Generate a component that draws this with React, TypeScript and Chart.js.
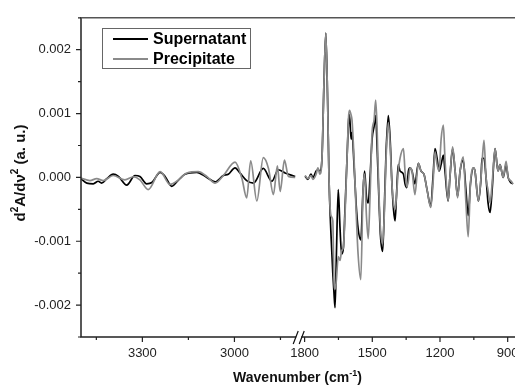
import { useEffect, useRef } from "react";
import { Chart, registerables } from "chart.js";

Chart.register(...registerables);

// ---------- data (wavenumber in cm-1, second derivative in a.u.) ----------
const seriesNames = ["Supernatant", "Precipitate"];

const leftSupWn = [3500, 3481, 3460, 3444, 3433, 3416, 3395, 3378, 3351, 3324, 3308, 3286, 3269, 3242, 3226, 3204, 3188, 3161, 3123, 3090, 3063, 3036, 3020, 2998, 2982, 2960, 2938, 2906, 2878, 2857, 2835, 2802];
const leftSup = [-0.00002, -0.00009, -0.0001, -0.00006, -0.00009, -0.00002, 0.00005, 0.000015, -0.00012, 0.00003, 0.000015, -0.0001, -0.00008, 0.00008, 0.000015, -0.00014, -0.00007, 0.00005, 0.00008, 0, -0.00007, 0.00003, 0.00005, 0.00015, 0.00007, -0.00005, -0.00009, 0.00014, -0.00006, 0.00012, 0.00007, 0.000015];

const leftPreWn = [3500, 3471, 3449, 3427, 3395, 3357, 3329, 3308, 3281, 3242, 3210, 3188, 3155, 3118, 3090, 3063, 3036, 2998, 2976, 2960, 2947, 2927, 2906, 2889, 2873, 2860, 2851, 2837, 2824, 2802];
const leftPre = [-0.00001, -0.00005, -0.00002, -0.00005, 0.00003, -0.00004, 0.00001, -0.00004, -0.00019, 0.00009, -0.00011, -0.00006, 0.00007, 0.00009, 0.000015, -0.00009, 0.00003, 0.00024, -0.00001, -0.00032, 0.00026, -0.00037, 0.00031, 0.00014, -0.00027, 0.00018, -0.00022, 0.00027, 0.000015, 0];

const rightWn = [1798, 1785, 1772, 1763, 1749, 1741, 1732, 1723, 1714, 1706, 1698, 1692, 1683, 1675, 1670, 1665, 1659, 1651, 1643, 1636, 1628, 1621, 1612, 1605, 1601, 1594, 1590, 1581, 1572, 1563, 1551, 1541, 1534, 1526, 1518, 1510, 1501, 1492, 1485, 1479, 1472, 1464, 1454, 1446, 1439, 1429, 1421, 1413, 1406, 1399, 1393, 1385, 1377, 1362, 1355, 1347, 1340, 1333, 1324, 1311, 1296, 1284, 1271, 1257, 1241, 1231, 1222, 1213, 1204, 1195, 1185, 1178, 1164, 1156, 1144, 1133, 1122, 1111, 1097, 1085, 1075, 1065, 1052, 1045, 1030, 1018, 1014, 1005, 996, 987, 978, 969, 956, 943, 934, 920, 907, 898, 887, 876];
const rightSup = [0.00002, -0.00003, 0.00005, 0, 0.0001, 0.00012, 0.0001, 0.0003, 0.0015, 0.00226, 0.0012, 0, -0.0009, -0.0015, -0.0018, -0.00204, -0.0012, -0.00019, -0.0008, -0.0012, -0.0011, -0.0005, 0.0003, 0.0009, 0.00098, 0.0006, 0.0007, 0.0002, -0.0004, -0.0008, -0.00098, -0.0002, 0.0001, -0.0003, -0.0004, 0, 0.0006, 0.0008, 0.00097, 0.0005, -0.0002, -0.0009, -0.00116, -0.0004, 0.0004, 0.00097, 0.0006, -0.0001, -0.0005, -0.00068, -0.0003, 0.0002, 0.0001, 0.00005, -0.0001, -0.00016, 0.0001, 0.00015, 0.0001, -0.0001, 0.00022, 0.0001, 0.00005, -0.0002, -0.00045, 0, 0.00045, 0.0003, 0.0001, 0.0002, 0.00035, 0.0001, -0.00037, 0, 0.00045, 0.0001, -0.0003, 0.0001, 0.00027, -0.0002, -0.0006, -0.0001, 0.00015, 0.0001, -0.00037, 0, 0.0003, 0.0003, 0, -0.0004, -0.00055, -0.0002, 0.00045, 0.0001, 0.0002, 0, 0.0002, 0, -0.00008, -0.0001];
const rightPre = [0.00003, -0.00002, 0.00003, -0.00003, 0.00005, 0.00015, 0.00005, 0.0003, 0.0015, 0.00226, 0.0012, 0, -0.0006, -0.00068, -0.0016, -0.00175, -0.0016, -0.00124, -0.0013, -0.00115, -0.00109, -0.0006, 0.0003, 0.00095, 0.00105, 0.00098, 0.0009, 0.0003, -0.0005, -0.0012, -0.0016, -0.0002, 0.00005, -0.0006, -0.00096, -0.0003, 0.0007, 0.0009, 0.00121, 0.0008, -0.0001, -0.0008, -0.00104, -0.0005, 0.0003, 0.00086, 0.0005, -0.0001, -0.0004, -0.0005, -0.0003, 0.0001, 0.0003, 0.00045, 0.0001, -0.00015, -0.00005, 0.00015, 0.0001, -0.00027, 0.00022, 0.0001, 0.00005, -0.0002, -0.00047, -0.0001, 0.0004, 0.0002, 0.0001, 0.0006, 0.00082, 0.0003, -0.00037, 0, 0.00048, 0.0001, -0.00032, 0.0001, 0.00032, -0.0004, -0.00093, -0.0001, 0.00015, 0.0001, -0.00037, 0, 0.0002, 0.00058, 0, -0.0002, -0.0004, -0.0001, 0.00045, 0.0001, 0.0002, 0, 0.00025, 0, -0.00005, -0.0001];

const xMajorTicks = [3300, 3000, 1800, 1500, 1200, 900];
const xMinorTicks = [3450, 3150, 2850, 1650, 1350, 1050];
const yMajorTicks = [-0.002, -0.001, 0, 0.001, 0.002];
const yMinorTicks = [-0.0025, -0.0015, -0.0005, 0.0005, 0.0015, 0.0025];

// ---------- broken axis: 3500-2800 (stretched) | break | 1800-872 ----------
const LEFT_START = 3500;
const LEFT_END = 2800;
const LEFT_STRETCH = 1.36;
const BREAK_WIDTH = 39;
const RIGHT_START = 1800;
const RIGHT_END = 872;
const LEFT_SPAN = (LEFT_START - LEFT_END) * LEFT_STRETCH;
const RIGHT_OFFSET = LEFT_SPAN + BREAK_WIDTH;
const AXIS_MAX = RIGHT_OFFSET + (RIGHT_START - RIGHT_END);

function axisPos(wn: number): number {
  return wn > 2300 ? (LEFT_START - wn) * LEFT_STRETCH : RIGHT_OFFSET + (RIGHT_START - wn);
}

function buildSeries(lw: number[], lv: number[], rw: number[], rv: number[]) {
  const pts: { x: number; y: number | null }[] = lw.map((w, i) => ({ x: axisPos(w), y: lv[i] }));
  pts.push({ x: LEFT_SPAN + BREAK_WIDTH / 2, y: null });
  rw.forEach((w, i) => pts.push({ x: axisPos(w), y: rv[i] }));
  return pts;
}

const FONT = "'Liberation Sans', Arial, Helvetica, sans-serif";

type Seg = { t: string; sup?: boolean };

function drawRich(ctx: CanvasRenderingContext2D, segs: Seg[], cx: number, baseline: number, size: number, supSize: number) {
  const mainFont = `bold ${size}px ${FONT}`;
  const supFont = `bold ${supSize}px ${FONT}`;
  let total = 0;
  const widths = segs.map((s) => {
    ctx.font = s.sup ? supFont : mainFont;
    const w = ctx.measureText(s.t).width;
    total += w;
    return w;
  });
  let x = cx - total / 2;
  ctx.textAlign = "left";
  ctx.textBaseline = "alphabetic";
  segs.forEach((s, i) => {
    ctx.font = s.sup ? supFont : mainFont;
    ctx.fillText(s.t, x, s.sup ? baseline - size * 0.45 : baseline);
    x += widths[i];
  });
}

const decorPlugin = {
  id: "decor",
  afterDatasetsDraw(chart: any) {
    const { ctx, chartArea, scales } = chart;
    const { left, right, top, bottom } = chartArea;
    const xs = scales.x;
    const ys = scales.y;
    ctx.save();
    ctx.strokeStyle = "#222";
    ctx.lineWidth = 1.5;
    ctx.lineCap = "butt";
    // frame: left, bottom, top
    ctx.beginPath();
    ctx.moveTo(left, top);
    ctx.lineTo(left, bottom);
    ctx.moveTo(left - 0.75, bottom);
    ctx.lineTo(right + 1, bottom);
    ctx.stroke();
    ctx.strokeStyle = "#555";
    ctx.beginPath();
    ctx.moveTo(left - 0.75, top);
    ctx.lineTo(right + 1, top);
    ctx.stroke();

    // y ticks
    ctx.strokeStyle = "#222";
    ctx.lineWidth = 1.2;
    ctx.beginPath();
    yMajorTicks.forEach((v) => {
      const y = ys.getPixelForValue(v);
      ctx.moveTo(left - 5, y);
      ctx.lineTo(left, y);
    });
    yMinorTicks.forEach((v) => {
      const y = ys.getPixelForValue(v);
      ctx.moveTo(left - 3, y);
      ctx.lineTo(left, y);
    });
    // x ticks
    xMajorTicks.forEach((w) => {
      const x = xs.getPixelForValue(axisPos(w));
      ctx.moveTo(x, bottom);
      ctx.lineTo(x, bottom + 5);
    });
    xMinorTicks.forEach((w) => {
      const x = xs.getPixelForValue(axisPos(w));
      ctx.moveTo(x, bottom);
      ctx.lineTo(x, bottom + 3);
    });
    ctx.stroke();

    // x tick labels
    ctx.fillStyle = "#222";
    ctx.font = `13px ${FONT}`;
    ctx.textAlign = "center";
    ctx.textBaseline = "alphabetic";
    xMajorTicks.forEach((w) => {
      const x = xs.getPixelForValue(axisPos(w));
      ctx.fillText(String(w), x, bottom + 20);
    });

    // axis break
    const bx = xs.getPixelForValue(LEFT_SPAN + BREAK_WIDTH / 2) - 1.5;
    ctx.fillStyle = "#fff";
    ctx.fillRect(bx - 2.5, bottom - 2, 5, 5);
    ctx.strokeStyle = "#111";
    ctx.lineWidth = 1.2;
    ctx.beginPath();
    ctx.moveTo(bx - 5.5, bottom + 7);
    ctx.lineTo(bx - 0.5, bottom - 6);
    ctx.moveTo(bx + 0.5, bottom + 7);
    ctx.lineTo(bx + 5.5, bottom - 6);
    ctx.stroke();

    // titles
    ctx.fillStyle = "#111";
    drawRich(ctx, [{ t: "Wavenumber (cm" }, { t: "-1", sup: true }, { t: ")" }], (left + right) / 2, 382, 14, 9);
    ctx.save();
    ctx.translate(25, 173);
    ctx.rotate(-Math.PI / 2);
    drawRich(ctx, [{ t: "d" }, { t: "2", sup: true }, { t: "A/d\u03bd" }, { t: "2", sup: true }, { t: " (a. u.)" }], 0, 0, 15, 10);
    ctx.restore();

    // legend
    const lx = 102.5, ly = 28.5, lw = 148, lh = 40;
    ctx.fillStyle = "#fff";
    ctx.fillRect(lx, ly, lw, lh);
    ctx.strokeStyle = "#666";
    ctx.lineWidth = 1;
    ctx.strokeRect(lx, ly, lw, lh);
    chart.data.datasets.forEach((ds: any, i: number) => {
      const yy = 39 + i * 20;
      ctx.strokeStyle = ds.borderColor;
      ctx.lineWidth = 2;
      ctx.beginPath();
      ctx.moveTo(113, yy);
      ctx.lineTo(148, yy);
      ctx.stroke();
      ctx.fillStyle = "#000";
      ctx.font = `bold 16px ${FONT}`;
      ctx.textAlign = "left";
      ctx.textBaseline = "middle";
      ctx.fillText(ds.label, 153, yy + 1);
    });
    ctx.restore();
  },
};

export default function App() {
  const ref = useRef<HTMLCanvasElement | null>(null);
  useEffect(() => {
    if (!ref.current) return;
    const chart = new Chart(ref.current, {
      type: "line",
      data: {
        datasets: [
          {
            label: seriesNames[0],
            data: buildSeries(leftSupWn, leftSup, rightWn, rightSup) as any,
            borderColor: "#000000",
            borderWidth: 1.7,
            pointRadius: 0,
            cubicInterpolationMode: "monotone",
            spanGaps: false,
            order: 2,
          },
          {
            label: seriesNames[1],
            data: buildSeries(leftPreWn, leftPre, rightWn, rightPre) as any,
            borderColor: "#8a8a8a",
            borderWidth: 1.7,
            pointRadius: 0,
            cubicInterpolationMode: "monotone",
            spanGaps: false,
            order: 1,
          },
        ],
      },
      options: {
        responsive: false,
        animation: false,
        devicePixelRatio: 1,
        layout: { padding: { left: 0, right: 1, top: 14, bottom: 0 } },
        plugins: { legend: { display: false }, tooltip: { enabled: false } },
        scales: {
          x: {
            type: "linear",
            min: 0,
            max: AXIS_MAX,
            afterFit: (s: any) => {
              s.height = 48;
              s.paddingLeft = 0;
              s.paddingRight = 0;
            },
            grid: { display: false, drawTicks: false },
            border: { display: false },
            ticks: { display: false },
          },
          y: {
            type: "linear",
            min: -0.0025,
            max: 0.0025,
            afterFit: (s: any) => {
              s.width = 81;
            },
            afterBuildTicks: (s: any) => {
              s.ticks = yMajorTicks.map((v) => ({ value: v }));
            },
            grid: { display: false, drawTicks: false },
            border: { display: false },
            ticks: {
              padding: 10,
              color: "#222",
              font: { family: FONT, size: 13 },
              callback: (v: any) => (Math.round(v * 1000) / 1000).toFixed(3),
            },
          },
        },
      },
      plugins: [decorPlugin],
    });
    return () => chart.destroy();
  }, []);
  return (
    <div style={{ position: "fixed", left: 0, top: 0, width: 515, height: 385, background: "#fff" }}>
      <canvas ref={ref} width={515} height={385} style={{ display: "block" }} />
    </div>
  );
}
